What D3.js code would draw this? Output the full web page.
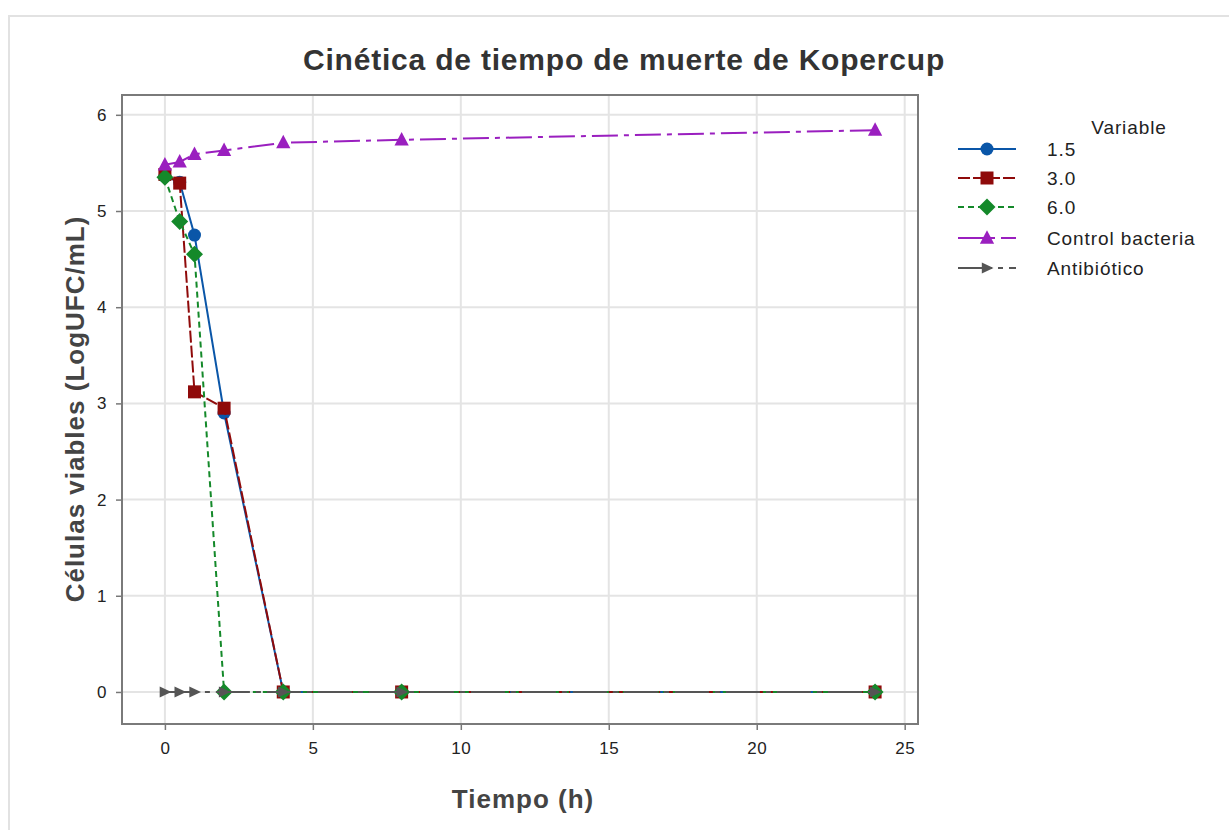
<!DOCTYPE html>
<html>
<head>
<meta charset="utf-8">
<script src="https://cdn.jsdelivr.net/npm/d3@7"></script>
<style>
  html, body { margin: 0; padding: 0; background: #fff; }
  svg { display: block; }
</style>
</head>
<body>
<svg id="chart" width="1229" height="830"></svg>
<script>
const times = [0, 0.5, 1, 2, 4, 8, 24];
const seriesNames = ["1.5", "3.0", "6.0", "Control bacteria", "Antibiótico"];
const values_1_5 = [5.36, 5.30, 4.75, 2.90, 0, 0, 0];
const values_3_0 = [5.38, 5.29, 3.12, 2.95, 0, 0, 0];
const values_6_0 = [5.35, 4.89, 4.55, 0, 0, 0, 0];
const values_control = [5.48, 5.51, 5.59, 5.63, 5.71, 5.74, 5.84];
const values_antibiotico = [0, 0, 0, 0, 0, 0, 0];
const xTicks = [0, 5, 10, 15, 20, 25];
const yTicks = [0, 1, 2, 3, 4, 5, 6];
const title = "Cinética de tiempo de muerte de Kopercup";
const xLabel = "Tiempo (h)";
const yLabel = "Células viables (LogUFC/mL)";
const legendTitle = "Variable";

const allValues = [values_1_5, values_3_0, values_6_0, values_control, values_antibiotico];
const styles = [
  {color: "#0a56a8", dash: null, shape: "circle", size: 13},
  {color: "#8f0a0a", dash: "12,3", shape: "square", size: 13},
  {color: "#14892a", dash: "6,4", shape: "diamond", size: 17},
  {color: "#9a1fbf", dash: "26,6,5,6", shape: "triangle", size: 15},
  {color: "#555555", dash: "34,6,5,6", shape: "rtri", size: 13}
];

const svg = d3.select("#chart");
const font = "'Liberation Sans', Arial, sans-serif";

// outer frame
svg.append("line").attr("x1", 8).attr("x2", 1229).attr("y1", 16).attr("y2", 16)
  .attr("stroke", "#e2e2e2").attr("stroke-width", 2);
svg.append("line").attr("x1", 9).attr("x2", 9).attr("y1", 16).attr("y2", 830)
  .attr("stroke", "#e2e2e2").attr("stroke-width", 2);

const plot = {left: 122, top: 95, right: 918, bottom: 724};
const x = d3.scaleLinear().domain([-1.45, 25.45]).range([plot.left, plot.right]);
const y = d3.scaleLinear().domain([-0.333, 6.206]).range([plot.bottom, plot.top]);

// gridlines
const grid = svg.append("g");
grid.selectAll(".gx").data(xTicks).enter().append("line")
  .attr("x1", d => x(d)).attr("x2", d => x(d)).attr("y1", plot.top).attr("y2", plot.bottom)
  .attr("stroke", "#e4e4e4").attr("stroke-width", 2);
grid.selectAll(".gy").data(yTicks).enter().append("line")
  .attr("y1", d => y(d)).attr("y2", d => y(d)).attr("x1", plot.left).attr("x2", plot.right)
  .attr("stroke", "#e4e4e4").attr("stroke-width", 2);

// axes
const xAxis = d3.axisBottom(x).tickValues(xTicks).tickSize(6).tickPadding(12).tickFormat(d3.format("d"));
const yAxis = d3.axisLeft(y).tickValues(yTicks).tickSize(6).tickPadding(9).tickFormat(d3.format("d"));
const gx = svg.append("g").attr("transform", `translate(0,${plot.bottom})`).call(xAxis);
const gy = svg.append("g").attr("transform", `translate(${plot.left},0)`).call(yAxis);
[gx, gy].forEach(g => {
  g.select(".domain").remove();
  g.selectAll(".tick line").attr("stroke", "#777").attr("stroke-width", 1.5);
  g.selectAll(".tick text").attr("fill", "#222").style("font-family", font)
    .style("font-size", "17px").style("letter-spacing", "0.5px");
});

// plot border
svg.append("rect").attr("x", plot.left).attr("y", plot.top)
  .attr("width", plot.right - plot.left).attr("height", plot.bottom - plot.top)
  .attr("fill", "none").attr("stroke", "#7a7a7a").attr("stroke-width", 2);

function symbolPath(style) {
  const s = style.size / 2;
  switch (style.shape) {
    case "circle": return d3.symbol().type(d3.symbolCircle).size(Math.PI * s * s)();
    case "square": return `M${-s},${-s}H${s}V${s}H${-s}Z`;
    case "diamond": return `M0,${-s}L${s},0L0,${s}L${-s},0Z`;
    case "triangle": return `M0,${-s * 1.05}L${s * 0.95},${s * 0.75}L${-s * 0.95},${s * 0.75}Z`;
    case "rtri": return `M${-s * 0.8},${-s * 0.85}L${s * 1.0},0L${-s * 0.8},${s * 0.85}Z`;
  }
}

const line = d3.line().x(d => x(d.t)).y(d => y(d.v));
const chartG = svg.append("g");
allValues.forEach((vals, i) => {
  const st = styles[i];
  const pts = times.map((t, j) => ({t, v: vals[j]}));
  const g = chartG.append("g");
  g.append("path").datum(pts).attr("d", line).attr("fill", "none")
    .attr("stroke", st.color).attr("stroke-width", 2)
    .attr("stroke-dasharray", st.dash);
  g.selectAll("path.m").data(pts).enter().append("path").attr("class", "m")
    .attr("d", symbolPath(st))
    .attr("transform", d => `translate(${x(d.t)},${y(d.v)})`)
    .attr("fill", st.color);
});

// title and labels
svg.append("text").attr("x", 624).attr("y", 70).attr("text-anchor", "middle")
  .style("font-family", font).style("font-size", "30px").style("font-weight", "bold")
  .style("letter-spacing", "0.8px")
  .attr("fill", "#333").text(title);
svg.append("text").attr("x", 523).attr("y", 808).attr("text-anchor", "middle")
  .style("font-family", font).style("font-size", "26px").style("font-weight", "bold")
  .style("letter-spacing", "1px")
  .attr("fill", "#444").text(xLabel);
svg.append("text").attr("transform", "translate(84,409) rotate(-90)").attr("text-anchor", "middle")
  .style("font-family", font).style("font-size", "26px").style("font-weight", "bold")
  .style("letter-spacing", "1px")
  .attr("fill", "#444").text(yLabel);

// legend
const leg = svg.append("g");
leg.append("text").attr("x", 1129).attr("y", 134).attr("text-anchor", "middle")
  .style("font-family", font).style("font-size", "19px").style("letter-spacing", "0.9px")
  .attr("fill", "#222").text(legendTitle);
const legY = [149, 178, 207, 238, 268];
seriesNames.forEach((name, i) => {
  const st = styles[i];
  const yy = legY[i];
  leg.append("line").attr("x1", 958).attr("x2", 1016).attr("y1", yy).attr("y2", yy)
    .attr("stroke", st.color).attr("stroke-width", 2).attr("stroke-dasharray", st.dash);
  leg.append("path").attr("d", symbolPath(st))
    .attr("transform", `translate(987,${yy})`).attr("fill", st.color);
  leg.append("text").attr("x", 1047).attr("y", yy + 7)
    .style("font-family", font).style("font-size", "19px").style("letter-spacing", "0.9px")
    .attr("fill", "#222").text(name);
});
</script>
</body>
</html>
